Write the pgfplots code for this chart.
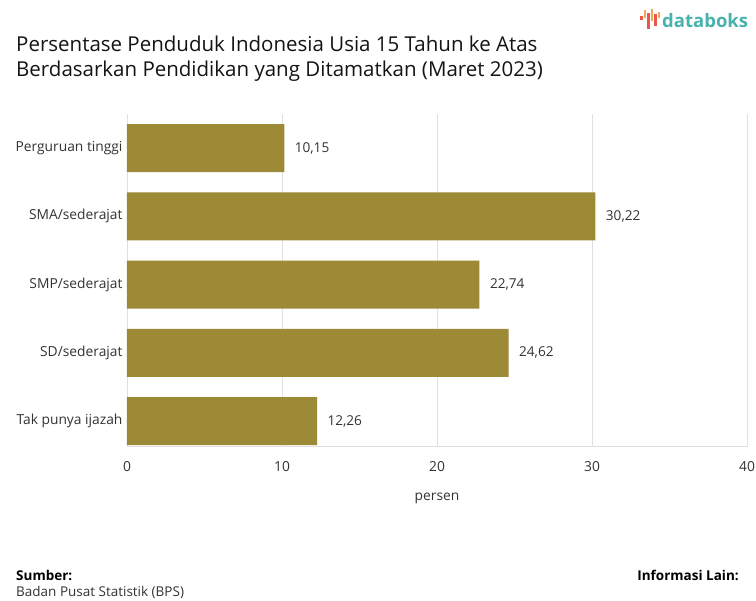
\documentclass[border=0pt]{standalone}
\usepackage{pgfplots}
\pgfplotsset{compat=1.18}
\usepackage{fontspec}
\setmainfont{Open Sans}
\definecolor{barc}{HTML}{9C8A37}
\definecolor{txt}{HTML}{333333}
\definecolor{teal}{HTML}{47B3AC}
\definecolor{lred}{HTML}{E8594A}
\definecolor{lorg}{HTML}{F2A65A}
\begin{document}
\begin{tikzpicture}
\path[use as bounding box, fill=white] (0pt,0pt) rectangle (756pt,601pt);
% title
\node[anchor=base west, inner sep=0, font=\fontsize{20.5}{22}\selectfont, text=black!92] at (16pt,549pt) {Persentase Penduduk Indonesia Usia 15 Tahun ke Atas};
\node[anchor=base west, inner sep=0, font=\fontsize{20.5}{22}\selectfont, text=black!92] at (16pt,524pt) {Berdasarkan Pendidikan yang Ditamatkan (Maret 2023)};
% logo
\fill[lred] (640pt,581pt) rectangle (642.5pt,585pt);
\fill[lorg] (643.5pt,583pt) rectangle (646pt,591pt);
\fill[lred] (647pt,572pt) rectangle (649.5pt,588pt);
\fill[lorg] (650.5pt,580pt) rectangle (653pt,592pt);
\fill[lred] (654pt,575pt) rectangle (656.5pt,587pt);
\fill[lorg] (657.5pt,583pt) rectangle (660pt,589pt);
\node[anchor=base west, inner sep=0, font=\fontsize{18.5}{20}\selectfont\bfseries, text=teal] at (662pt,573pt) {databoks};
% footer
\node[anchor=base west, inner sep=0, font=\fontsize{13.5}{15}\selectfont\bfseries, text=black] at (16pt,20pt) {Sumber:};
\node[anchor=base west, inner sep=0, font=\fontsize{13.5}{15}\selectfont, text=txt] at (16pt,4pt) {Badan Pusat Statistik (BPS)};
\node[anchor=base east, inner sep=0, font=\fontsize{13.5}{15}\selectfont\bfseries, text=black] at (739pt,20pt) {Informasi Lain:};
\begin{axis}[
  at={(127pt,154pt)}, anchor=south west,
  scale only axis, width=620pt, height=333pt,
  xbar, bar width=48pt,
  xmin=0, xmax=40, ymin=-0.38, ymax=4.5,
  xtick={0,10,20,30,40},
  ytick={0,1,2,3,4},
  yticklabels={Tak punya ijazah, SD/sederajat, SMP/sederajat, SMA/sederajat, Perguruan tinggi},
  xmajorgrids, grid style={draw=black!12, line width=0.8pt},
  axis x line*=bottom, axis y line*=left,
  x axis line style={draw=black!12, line width=1pt},
  y axis line style={draw=none},
  major tick length=0pt,
  /pgf/number format/assume math mode=true,
  tick label style={font=\fontsize{13.8}{15}\selectfont, text=txt},
  xticklabel style={yshift=-11pt},
  yticklabel style={xshift=-1pt},
  xlabel={persen},
  xlabel style={font=\fontsize{13.8}{15}\selectfont, text=txt, yshift=-14pt},
  nodes near coords,
  nodes near coords style={font=\fontsize{13.6}{15}\selectfont, text=txt, anchor=west, xshift=7pt,
    /pgf/number format/.cd, fixed, precision=2, fixed zerofill, use comma, assume math mode=true},
]
\addplot[fill=barc, draw=none] coordinates {(12.26,0) (24.62,1) (22.74,2) (30.22,3) (10.15,4)};
\end{axis}
\end{tikzpicture}
\end{document}
